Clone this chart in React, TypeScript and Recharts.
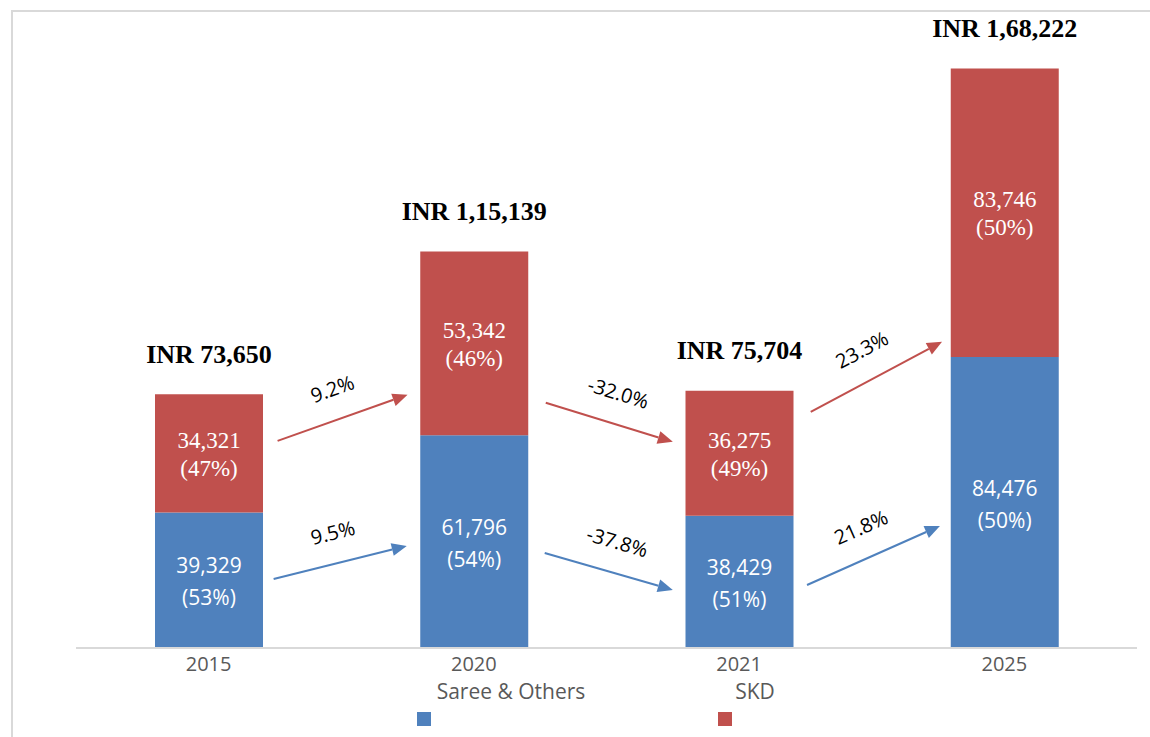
import React from "react";
import {
  BarChart,
  Bar,
  XAxis,
  YAxis,
  LabelList,
  Legend,
  ReferenceLine,
} from "recharts";

const years = ["2015", "2020", "2021", "2025"];
const sareeValues = [39329, 61796, 38429, 84476];
const skdValues = [34321, 53342, 36275, 83746];
const sareeShares = [53, 54, 51, 50];
const skdShares = [47, 46, 49, 50];
const totals = [73650, 115139, 75704, 168222];
const sareeGrowth = ["9.5%", "-37.8%", "21.8%"];
const skdGrowth = ["9.2%", "-32.0%", "23.3%"];
// growth arrows in chart units: [from index, from value, to index, to value]
const sareeArrows = [
  [0.245, 20050, 0.747, 29630],
  [1.267, 27600, 1.75, 16850],
  [2.256, 18300, 2.757, 35450],
];
const skdArrows = [
  [0.26, 60140, 0.75, 73510],
  [1.271, 71180, 1.75, 59850],
  [2.27, 68570, 2.765, 88900],
];
const seriesOrder = ["Saree & Others", "SKD"];

const BLUE = "#4F81BD";
const RED = "#C0504D";
const SANS = "'Open Sans', 'Noto Sans', sans-serif";
const SERIF = "'Liberation Serif', 'DejaVu Serif', serif";

const data = years.map((year, i) => ({
  year,
  pos: i,
  saree: sareeValues[i],
  skd: skdValues[i],
}));

// indian digit grouping: 1,15,139
const inr = (n: number) => {
  const s = String(n);
  if (s.length <= 3) return s;
  const rest = s.slice(0, -3).replace(/\B(?=(\d{2})+(?!\d))/g, ",");
  return rest + "," + s.slice(-3);
};

const segmentLabel =
  (values: number[], shares: number[], font: string, size: number, gap: number) =>
  (p: any) => {
    const idx = p.index ?? values.indexOf(p.value);
    const cx = p.x + p.width / 2;
    const cy = p.y + p.height / 2;
    return (
      <g>
        <text
          x={cx}
          y={cy - gap / 2 + 1}
          textAnchor="middle"
          dominantBaseline="central"
          fill="#fff"
          fontFamily={font}
          fontSize={size}
        >
          {inr(values[idx])}
        </text>
        <text
          x={cx}
          y={cy + gap / 2 + 1}
          textAnchor="middle"
          dominantBaseline="central"
          fill="#fff"
          fontFamily={font}
          fontSize={size}
        >
          ({shares[idx]}%)
        </text>
      </g>
    );
  };

const totalLabel = (p: any) => {
  const idx = p.index ?? skdValues.indexOf(p.value);
  return (
    <text
      x={p.x + p.width / 2}
      y={p.y - 40}
      textAnchor="middle"
      dominantBaseline="central"
      fontFamily={SERIF}
      fontWeight="bold"
      fontSize={26}
      fill="#000"
    >
      INR {inr(totals[idx])}
    </text>
  );
};

const arrowShape = (color: string, text: string) => (p: any) => {
  const { x1, y1, x2, y2 } = p;
  const ang = Math.atan2(y2 - y1, x2 - x1);
  const c = Math.cos(ang);
  const s = Math.sin(ang);
  const len = 15;
  const half = 6.5;
  const bx = x2 - len * c;
  const by = y2 - len * s;
  const mx = (x1 + x2) / 2 + 31 * s;
  const my = (y1 + y2) / 2 - 31 * c;
  return (
    <g>
      <line x1={x1} y1={y1} x2={bx} y2={by} stroke={color} strokeWidth={2} />
      <polygon
        points={`${x2},${y2} ${bx - half * s},${by + half * c} ${bx + half * s},${by - half * c}`}
        fill={color}
      />
      <text
        x={mx}
        y={my}
        textAnchor="middle"
        dominantBaseline="central"
        fontFamily={SANS}
        fontSize={20}
        fill="#000"
        transform={`rotate(${(ang * 180) / Math.PI} ${mx} ${my})`}
      >
        {text}
      </text>
    </g>
  );
};

const YearTick = (p: any) => (
  <text
    x={p.x}
    y={p.y + 7}
    textAnchor="middle"
    dominantBaseline="central"
    fontFamily={SANS}
    fontSize={20}
    fill="#595959"
  >
    {years[p.payload.value]}
  </text>
);

const LegendBox = (p: any) => {
  const items = [...(p.payload || [])].sort(
    (a: any, b: any) => seriesOrder.indexOf(a.value) - seriesOrder.indexOf(b.value)
  );
  return (
    <div style={{ position: "relative", width: 1150, height: 60 }}>
      {items.map((item: any, i: number) => (
        <React.Fragment key={item.value}>
          <div
            style={{
              position: "absolute",
              left: 511 + i * 244 - 100,
              width: 200,
              top: 4,
              textAlign: "center",
              fontFamily: SANS,
              fontSize: 21,
              lineHeight: "24px",
              color: "#595959",
            }}
          >
            {item.value}
          </div>
          <div
            style={{
              position: "absolute",
              left: 417 + i * 301,
              top: 37,
              width: 14,
              height: 14,
              background: item.color,
            }}
          />
        </React.Fragment>
      ))}
    </div>
  );
};

export default function App() {
  return (
    <div
      style={{
        position: "absolute",
        left: 0,
        top: 0,
        width: 1150,
        height: 737,
        background: "#fff",
      }}
    >
      <div
        style={{
          position: "absolute",
          left: 11,
          top: 10,
          right: 0,
          bottom: 0,
          borderTop: "2px solid #d9d9d9",
          borderLeft: "2px solid #d9d9d9",
        }}
      />
      <BarChart
        width={1150}
        height={737}
        data={data}
        margin={{ top: 28, right: 13, left: 76, bottom: 0 }}
      >
        <XAxis
          type="number"
          dataKey="pos"
          domain={[-0.5, 3.5]}
          ticks={[0, 1, 2, 3]}
          allowDataOverflow
          height={89}
          tickLine={false}
          axisLine={{ stroke: "#d9d9d9", strokeWidth: 2 }}
          tick={<YearTick />}
        />
        <YAxis hide domain={[0, 180000]} allowDataOverflow />
        <Legend
          verticalAlign="middle"
          align="center"
          layout="horizontal"
          wrapperStyle={{ top: 675, left: 0, width: 1150, height: 60 }}
          content={<LegendBox />}
        />
        <Bar
          dataKey="saree"
          name="Saree & Others"
          stackId="a"
          fill={BLUE}
          barSize={108}
          isAnimationActive={false}
        >
          <LabelList
            dataKey="saree"
            content={segmentLabel(sareeValues, sareeShares, SANS, 21, 32)}
          />
        </Bar>
        <Bar
          dataKey="skd"
          name="SKD"
          stackId="a"
          fill={RED}
          barSize={108}
          isAnimationActive={false}
        >
          <LabelList
            dataKey="skd"
            content={segmentLabel(skdValues, skdShares, SERIF, 23, 28)}
          />
          <LabelList dataKey="skd" content={totalLabel} />
        </Bar>
        {skdArrows.map((a, i) => (
          <ReferenceLine
            key={"skd" + i}
            segment={[
              { x: a[0], y: a[1] },
              { x: a[2], y: a[3] },
            ]}
            shape={arrowShape(RED, skdGrowth[i])}
          />
        ))}
        {sareeArrows.map((a, i) => (
          <ReferenceLine
            key={"saree" + i}
            segment={[
              { x: a[0], y: a[1] },
              { x: a[2], y: a[3] },
            ]}
            shape={arrowShape(BLUE, sareeGrowth[i])}
          />
        ))}
      </BarChart>
    </div>
  );
}
